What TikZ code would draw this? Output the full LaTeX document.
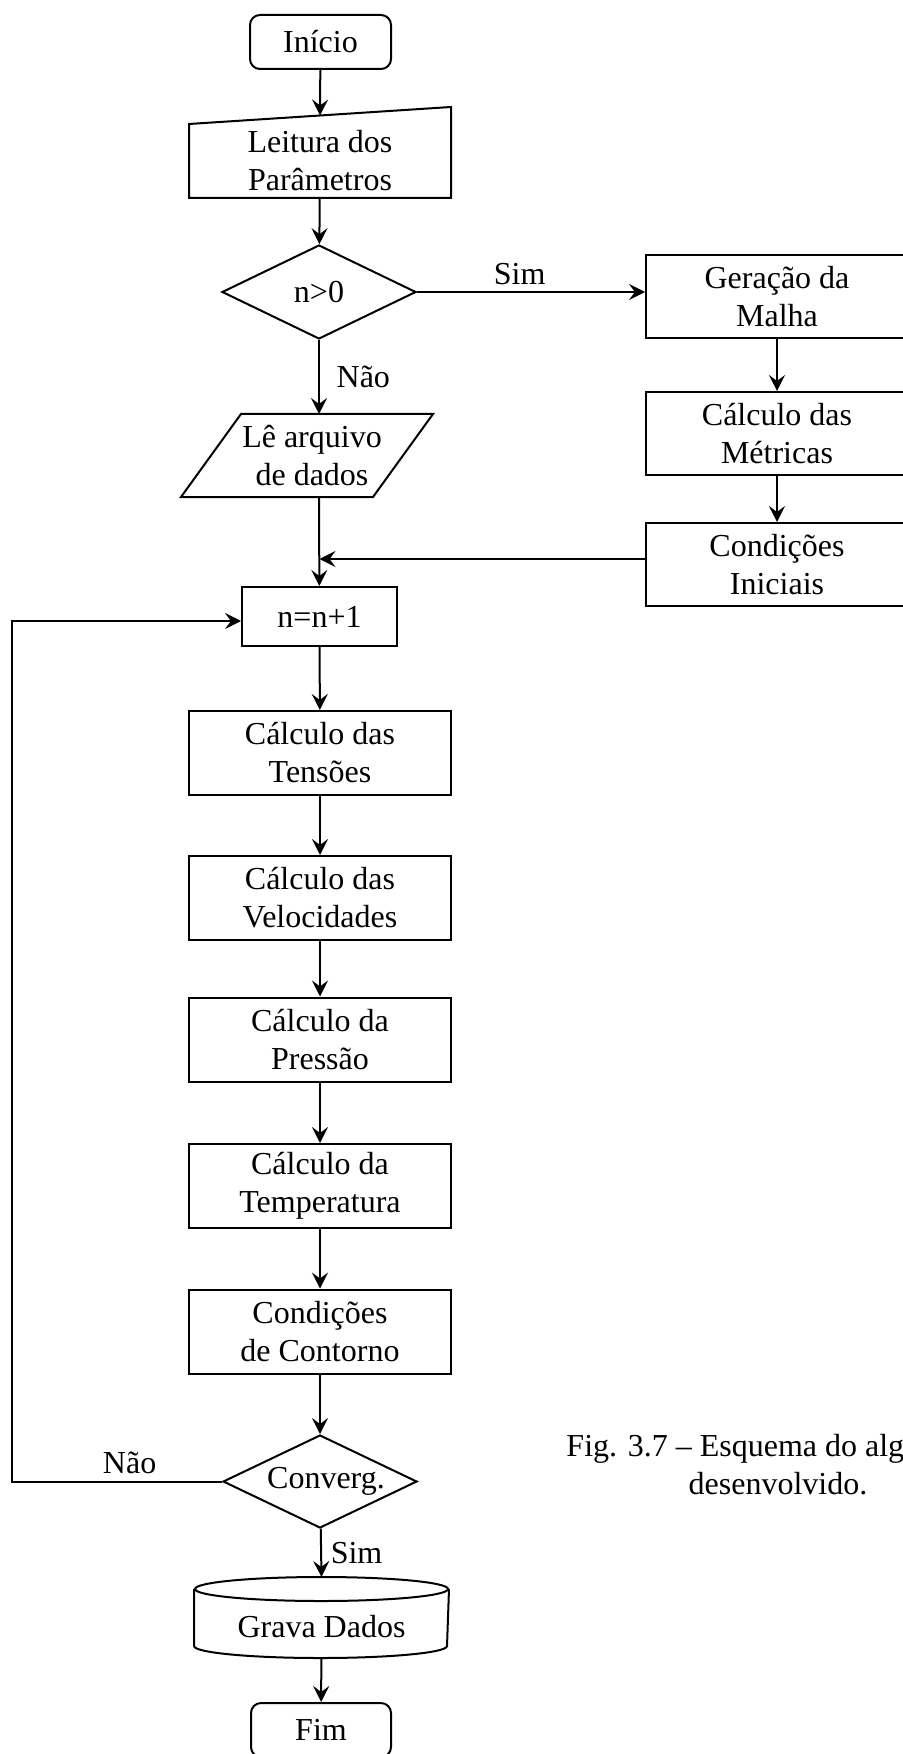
\documentclass[tikz,border=0pt]{standalone}
\usepackage{fontspec}
\setmainfont{Liberation Serif}
\usetikzlibrary{shapes.geometric, arrows.meta, positioning, calc}

\begin{document}
\begin{tikzpicture}[x=0.5pt, y=-0.5pt, line width=1pt,
    font=\fontsize{16}{19}\selectfont,
    proc/.style={draw, rectangle, minimum width=131pt, minimum height=42pt, align=center, inner sep=0pt},
    term/.style={draw, rectangle, rounded corners=5pt, minimum width=70.5pt, minimum height=27pt, inner sep=0pt},
    decision/.style={draw, diamond, aspect=2.1, minimum width=97pt, minimum height=47pt, inner sep=0pt},
    blank/.style={rectangle, align=center, inner sep=0pt},
    arr/.style={-{Stealth[length=8pt, width=8pt, inset=3pt]}}]
    \useasboundingbox (0,0) rectangle (903,1754);
    % Start and parameters
    \node[term] (inicio) at (320.5, 42) {Início};
    \node[blank, minimum width=130pt, minimum height=36pt] (leitura) at (320, 161) {Leitura dos\\Parâmetros};
    \draw (leitura.south west) -- (leitura.south east) -- ([yshift=8.5pt]leitura.north east) -- (leitura.north west) -- cycle;
    \coordinate (leitop) at ($(leitura.north west)!0.5!([yshift=8.5pt]leitura.north east)$);
    \node[decision] (testn) at (319, 292) {n>0};
    \node[blank, minimum width=95pt, minimum height=40.5pt] (learq) at (307, 455.5) {\hspace*{5pt}Lê arquivo\\\hspace*{5pt}de dados};
    \draw ([xshift=15pt]learq.north west) -- ([xshift=15pt]learq.north east) -- ([xshift=-15pt]learq.south east) -- ([xshift=-15pt]learq.south west) -- cycle;
    % Mesh branch
    \node[proc, minimum height=41.5pt] (malha) at (777, 296.5) {Geração da\\Malha};
    \node[proc, minimum height=41.5pt] (metricas) at (777, 433.5) {Cálculo das\\Métricas};
    \node[proc, minimum height=41.5pt] (iniciais) at (777, 564.5) {Condições\\Iniciais};
    % Time loop
    \node[proc, minimum width=77.5pt, minimum height=29.5pt] (incr) at (319.5, 616.5) {n=n+1};
    \node[proc] (tensoes) at (320, 753) {Cálculo das\\Tensões};
    \node[proc] (velocid) at (320, 898) {Cálculo das\\Velocidades};
    \node[proc] (pressao) at (320, 1039.5) {Cálculo da\\Pressão};
    \node[proc] (temper) at (320, 1186) {Cálculo da\\Temperatura};
    \node[proc] (contorno) at (320, 1331.5) {Condições\\de Contorno};
    \node[decision, minimum height=46.5pt] (conv) at (320, 1481.5) {\hspace*{6pt}Converg.};
    % Output and end
    \node[blank, minimum width=126.5pt, minimum height=30pt] (grava) at (321.5, 1627) {Grava Dados};
    \draw ([yshift=3.5pt]grava.north west) -- ([yshift=6pt]grava.south west) arc[start angle=180, end angle=360, x radius=63.25pt, y radius=6pt] -- ([yshift=3.5pt]grava.north east);
    \draw ([yshift=3.5pt]grava.north) ellipse[x radius=63.25pt, y radius=6pt];
    \node[term, minimum width=70pt] (fim) at (321, 1730) {Fim};
    \coordinate (loopx) at (12, 0);
    % Caption
    \node[blank] (legenda) at (778, 1465) {Fig. 3.7 -- Esquema do algoritmo\\desenvolvido.};
    % Connectors
    \draw[arr] (inicio) -- (leitop);
    \draw[arr] (leitura) -- (testn);
    \draw[arr] (testn) -- node[right=5pt] {Não} (testn.south |- learq.north);
    \draw[arr] (testn) -- node[pos=0.45, above] {Sim} (testn.east -| malha.west);
    \draw[arr] (malha) -- (metricas);
    \draw[arr] (metricas) -- (iniciais);
    \draw[arr] ([yshift=2.75pt]iniciais.west) -- ([yshift=2.75pt]iniciais.west -| incr);
    \draw[arr] (testn.south |- learq.south) -- (incr);
    \draw[arr] (incr) -- (tensoes);
    \draw[arr] (tensoes) -- (velocid);
    \draw[arr] (velocid) -- (pressao);
    \draw[arr] (pressao) -- (temper);
    \draw[arr] (temper) -- (contorno);
    \draw[arr] (contorno) -- (conv);
    \draw[arr] (conv) -- node[right=1pt] {Sim} ([yshift=9.5pt]grava.north);
    \draw[arr] (grava) -- (fim);
    \draw[arr] (conv.west) -- node[pos=0.44, above] {Não} (conv.west -| loopx) |- ([yshift=-2.25pt]incr.west);
\end{tikzpicture}
\end{document}
